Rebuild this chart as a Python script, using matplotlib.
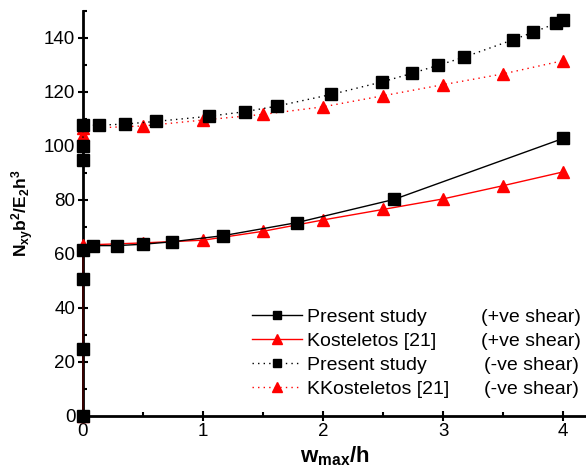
import matplotlib
matplotlib.use("Agg")
import matplotlib.pyplot as plt
from matplotlib.ticker import MultipleLocator

plt.rcParams['font.family'] = ['Liberation Sans', 'DejaVu Sans']
plt.rcParams['mathtext.fontset'] = 'custom'
plt.rcParams['mathtext.rm'] = 'Liberation Sans'
plt.rcParams['mathtext.it'] = 'Liberation Sans'
plt.rcParams['mathtext.bf'] = 'Liberation Sans:bold'

# Present study (+ve shear)
ps_pos_x = [0, 0, 0, 0, 0.08, 0.28, 0.50, 0.74, 1.17, 1.78, 2.59, 4.00]
ps_pos_y = [0, 24.6, 50.6, 61.4, 63.0, 63.0, 63.5, 64.4, 66.7, 71.5, 80.1, 102.7]
# Kosteletos [21] (+ve shear)
ko_pos_x = [0, 0, 0.5, 1.0, 1.5, 2.0, 2.5, 3.0, 3.5, 4.0]
ko_pos_y = [0, 63.2, 64.0, 65.0, 68.3, 72.5, 76.4, 80.3, 85.2, 90.3]
# Present study (-ve shear)
ps_neg_x = [0, 0, 0, 0.13, 0.35, 0.61, 1.05, 1.35, 1.62, 2.07, 2.49, 2.74, 2.96, 3.17, 3.58, 3.75, 3.94, 4.00]
ps_neg_y = [94.7, 99.9, 107.5, 107.6, 108.0, 109.0, 110.9, 112.6, 114.7, 119.0, 123.6, 126.8,
            129.8, 132.7, 139.2, 142.0, 145.3, 146.6]
# Kosteletos [21] (-ve shear)
ko_neg_x = [0, 0, 0.5, 1.0, 1.5, 2.0, 2.5, 3.0, 3.5, 4.0]
ko_neg_y = [104.0, 106.4, 107.3, 109.5, 111.6, 114.4, 118.5, 122.6, 126.6, 131.5]

labels_left = ["Present study", "Kosteletos [21]", "Present study", "KKosteletos [21]"]
labels_right = ["(+ve shear)", "(+ve shear)", "(-ve shear)", "(-ve shear)"]

W, H = 586, 475
fig = plt.figure(figsize=(W / 100, H / 100), dpi=100)
ax = fig.add_axes([0.1416, 0.1248, 0.8584, 0.8527])

h1, = ax.plot(ps_pos_x, ps_pos_y, color='black', lw=1.0, ls='-', marker='s', ms=8,
              mec='black', mfc='black', clip_on=False, zorder=4)
h2, = ax.plot(ko_pos_x, ko_pos_y, color='red', lw=1.0, ls='-', marker='^', ms=9,
              mec='red', mfc='red', clip_on=False, zorder=3)
h3, = ax.plot(ps_neg_x, ps_neg_y, color='black', lw=1.0, ls=(0, (1, 3)), marker='s', ms=8,
              mec='black', mfc='black', clip_on=False, zorder=4)
h4, = ax.plot(ko_neg_x, ko_neg_y, color='red', lw=1.0, ls=(0, (1, 3)), marker='^', ms=9,
              mec='red', mfc='red', clip_on=False, zorder=3)

ax.set_xlim(0, 4.19)
ax.set_ylim(0, 150)
ax.spines['right'].set_visible(False)
ax.spines['top'].set_visible(False)
ax.spines['left'].set_linewidth(2)
ax.spines['bottom'].set_linewidth(2)
ax.xaxis.set_major_locator(MultipleLocator(1))
ax.xaxis.set_minor_locator(MultipleLocator(0.5))
ax.yaxis.set_major_locator(MultipleLocator(20))
ax.yaxis.set_minor_locator(MultipleLocator(10))
ax.tick_params(which='major', direction='inout', length=7, width=1.5, labelsize=13.5, pad=2)
ax.tick_params(which='minor', direction='in', length=3, width=1.5)
ax.set_xticks([0, 1, 2, 3, 4])

ax.set_xlabel(r'$\mathbf{w_{max}/h}$', fontsize=16, labelpad=3)
ax.set_ylabel(r'$\mathbf{N_{xy}b^2/E_2h^3}$', fontsize=12.5, labelpad=6)

leg = fig.legend([h1, h2, h3, h4], labels_left, loc='upper left',
                 bbox_to_anchor=(252 / W, 1 - 308 / H), bbox_transform=fig.transFigure,
                 frameon=False, fontsize=14, handlelength=2.55, handletextpad=0.28,
                 labelspacing=0.34, borderpad=0, borderaxespad=0, markerscale=0.8)
fig.canvas.draw()
r = fig.canvas.get_renderer()
inv = fig.transFigure.inverted()
for t, lab in zip(leg.get_texts(), labels_right):
    bb = t.get_window_extent(r)
    yc = (bb.y0 + bb.y1) / 2
    xf, yf = inv.transform((531, yc))
    fig.text(xf, yf, lab, fontsize=14, ha='center', va='center')

fig.savefig("out.png", dpi=100)
